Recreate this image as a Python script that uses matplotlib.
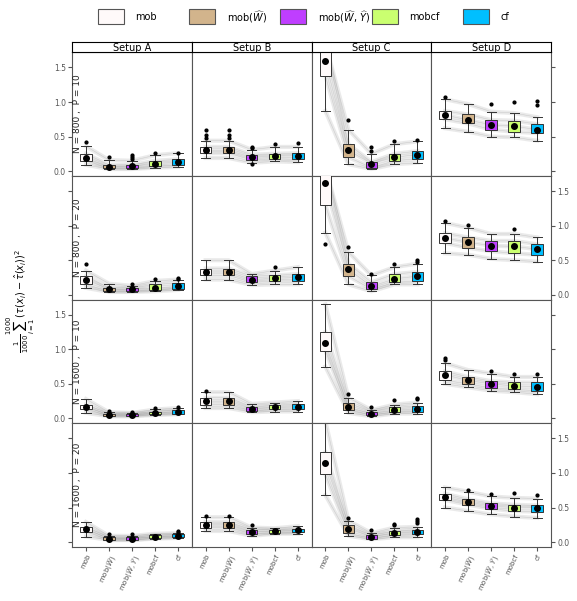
import matplotlib
matplotlib.use("Agg")
import matplotlib.pyplot as plt
from matplotlib.patches import Rectangle

# 方法与配色
方法 = ["mob", r"mob($\widehat{W}$)", r"mob($\widehat{W},\,\widehat{Y}$)", "mobcf", "cf"]
颜色 = ["#FFFAFA", "#D2B48C", "#BF3EFF", "#CAFF70", "#00BFFF"]
设置 = ["Setup A", "Setup B", "Setup C", "Setup D"]
行名 = ["N = 800 ,  P = 10", "N = 800 ,  P = 20", "N = 1600 ,  P = 10", "N = 1600 ,  P = 20"]

# 每格: (下须, Q1, Q3, 上须, 均值, 离群点)
r1A = [(.09, .15, .25, .36, .19, [.42]), (.03, .04, .09, .16, .06, [.21]), (.03, .04, .09, .15, .07, [.17, .20, .23]),
       (.05, .07, .15, .23, .11, [.26]), (.06, .09, .17, .26, .13, [.26])]
r1B = [(.19, .26, .35, .44, .30, [.48, .52, .60]), (.19, .26, .35, .44, .30, [.48, .52, .60]),
       (.12, .16, .24, .31, .20, [.33, .35, .10]), (.14, .18, .25, .35, .22, [.39]), (.13, .17, .26, .35, .22, [.40])]
r1C = [(.87, 1.38, 1.85, 1.85, 1.59, []), (.10, .20, .39, .60, .30, [.74]), (.03, .05, .13, .25, .11, [.29, .35]),
       (.10, .15, .25, .39, .20, [.44]), (.12, .18, .29, .43, .24, [.45])]
r1D = [(.62, .75, .87, 1.04, .81, [1.07]), (.57, .69, .82, .97, .74, []), (.50, .60, .74, .86, .67, [.97]),
       (.49, .57, .73, .84, .65, [1.0]), (.44, .55, .68, .78, .60, [.96, 1.01])]
r2A = [(.10, .15, .27, .35, .22, [.45]), (.04, .05, .10, .16, .08, []), (.04, .05, .10, .13, .08, [.15]),
       (.05, .07, .15, .20, .10, [.23]), (.07, .09, .17, .22, .12, [.23, .24])]
r2B = [(.22, .28, .38, .50, .33, []), (.22, .28, .38, .50, .33, []), (.14, .18, .27, .30, .22, []),
       (.15, .20, .28, .35, .24, [.40]), (.15, .20, .30, .40, .25, [])]
r2C = [(.90, 1.30, 1.85, 1.85, 1.62, [.73]), (.15, .27, .45, .62, .37, [.69]), (.05, .08, .18, .28, .12, [.30]),
       (.15, .18, .30, .40, .23, [.45]), (.15, .20, .33, .45, .27, [.48, .50])]
r2D = [(.60, .75, .89, 1.04, .82, [1.07]), (.58, .68, .83, .97, .76, [1.01]), (.52, .63, .78, .88, .71, []),
       (.50, .60, .78, .88, .70, [.95]), (.48, .58, .73, .83, .66, [])]
r3A = [(.08, .13, .20, .28, .17, []), (.03, .04, .07, .09, .05, [.11]), (.03, .04, .07, .08, .05, [.10]),
       (.05, .06, .10, .13, .08, [.15]), (.06, .07, .12, .15, .10, [.17])]
r3B = [(.15, .20, .30, .38, .25, [.40]), (.15, .20, .30, .38, .25, []), (.09, .11, .17, .21, .14, []),
       (.10, .13, .19, .23, .16, []), (.10, .13, .21, .25, .17, [])]
r3C = [(.75, .98, 1.25, 1.65, 1.09, []), (.08, .12, .22, .30, .16, [.36]), (.03, .05, .10, .12, .07, [.16]),
       (.07, .09, .16, .20, .12, [.26]), (.07, .10, .18, .23, .14, [.28, .30])]
r3D = [(.50, .55, .68, .80, .63, [.85, .88]), (.45, .50, .60, .70, .55, []), (.40, .44, .54, .65, .50, [.68]),
       (.38, .42, .52, .60, .47, [.65]), (.35, .40, .52, .60, .46, [.64])]
r4A = [(.08, .15, .22, .29, .19, []), (.03, .03, .07, .09, .05, [.11]), (.03, .03, .07, .09, .05, [.11]),
       (.05, .06, .10, .12, .08, []), (.06, .07, .11, .13, .09, [.15, .16])]
r4B = [(.16, .21, .29, .36, .25, [.38]), (.16, .21, .29, .36, .25, [.38]), (.09, .12, .18, .21, .15, [.24]),
       (.12, .13, .18, .20, .16, []), (.12, .14, .19, .23, .17, [])]
r4C = [(.68, .98, 1.30, 1.75, 1.14, []), (.09, .13, .24, .31, .19, [.35]), (.04, .05, .10, .13, .08, [.17]),
       (.07, .10, .16, .21, .13, [.24, .26]), (.07, .11, .18, .22, .15, [.28, .31, .34])]
r4D = [(.50, .61, .70, .79, .65, []), (.45, .54, .62, .73, .58, [.75]), (.40, .48, .56, .66, .52, [.70]),
       (.37, .45, .54, .64, .50, [.71]), (.35, .44, .53, .63, .50, [.68])]
数据 = [[r1A, r1B, r1C, r1D], [r2A, r2B, r2C, r2D], [r3A, r3B, r3C, r3D], [r4A, r4B, r4C, r4D]]

fig = plt.figure(figsize=(5.77, 6.01), dpi=100)
左, 右, 顶, 底 = 0.125, 0.955, 0.913, 0.09
宽 = (右 - 左) / 4
高 = (顶 - 底) / 4
刻度 = [0.0, 0.5, 1.0, 1.5]
xs = [1, 2, 3, 4, 5]

for i in range(4):
    for j in range(4):
        ax = fig.add_axes([左 + j * 宽, 顶 - (i + 1) * 高, 宽, 高])
        ax.set_xlim(0.4, 5.6)
        ax.set_ylim(-0.07, 1.72)
        格 = 数据[i][j]
        # 灰色连线
        for k in range(5):
            ax.plot(xs, [b[k] for b in 格], color="#999999", alpha=0.2, lw=3, zorder=1)
            ax.plot(xs, [b[k] for b in 格], color="#888888", alpha=0.3, lw=0.4, zorder=1)
        for x, (lo, q1, q3, hi, m, out), c in zip(xs, 格, 颜色):
            ax.add_patch(Rectangle((x - 0.25, q1), 0.5, q3 - q1, fc=c, ec="#333333", lw=0.7, zorder=3))
            ax.plot([x, x], [lo, q1], color="#333333", lw=0.7, zorder=2)
            ax.plot([x, x], [q3, hi], color="#333333", lw=0.7, zorder=2)
            ax.plot([x - 0.2, x + 0.2], [lo, lo], color="#333333", lw=0.7, zorder=2)
            ax.plot([x - 0.2, x + 0.2], [hi, hi], color="#333333", lw=0.7, zorder=2)
            ax.plot([x] * len(out), out, "o", ms=2, color="black", zorder=4)
            ax.plot([x], [m], "o", ms=4, color="black", zorder=5)
        ax.tick_params(labelsize=5.5, length=3, pad=1.5, color="#555555", labelcolor="#555555")
        ax.set_yticks(刻度)
        ax.yaxis.set_ticks_position("both" if j in (0, 3) else "none")
        if j == 0:
            ax.tick_params(axis="y", right=False)
        if j == 3:
            ax.tick_params(axis="y", left=False)
        ax.tick_params(axis="y", labelleft=(j == 0 and i % 2 == 0), labelright=(j == 3 and i % 2 == 1))
        ax.set_xticks(xs)
        if i == 3:
            ax.set_xticklabels(方法, rotation=65, ha="right", rotation_mode="anchor", fontsize=5, color="#555555")
        else:
            ax.tick_params(axis="x", bottom=False, labelbottom=False)
        for s in ax.spines.values():
            s.set_color("#555555")
        if j == 0:
            ax.text(0.045, 0.5, 行名[i], transform=ax.transAxes, rotation=90, ha="center", va="center",
                    fontsize=6.5, color="#222222")
        if i == 0:
            sax = fig.add_axes([左 + j * 宽, 顶, 宽, 0.017])
            sax.set_xticks([]); sax.set_yticks([])
            sax.text(0.5, 0.45, 设置[j], ha="center", va="center", fontsize=7)

# 图例
for k, (名, c) in enumerate(zip(方法, 颜色)):
    x0 = 0.17 + k * 0.158
    fig.patches.append(Rectangle((x0, 0.96), 0.045, 0.025, transform=fig.transFigure,
                                 fc=c, ec="#555555", lw=0.8))
    fig.text(x0 + 0.065, 0.972, 名, fontsize=7, va="center", ha="left")

fig.text(0.035, 0.5, r"$\frac{1}{1000}\sum_{i=1}^{1000}(\tau(x_i) - \hat{\tau}(x_i))^2$",
         rotation=90, ha="center", va="center", fontsize=7)

fig.savefig("out.png", dpi=100)
